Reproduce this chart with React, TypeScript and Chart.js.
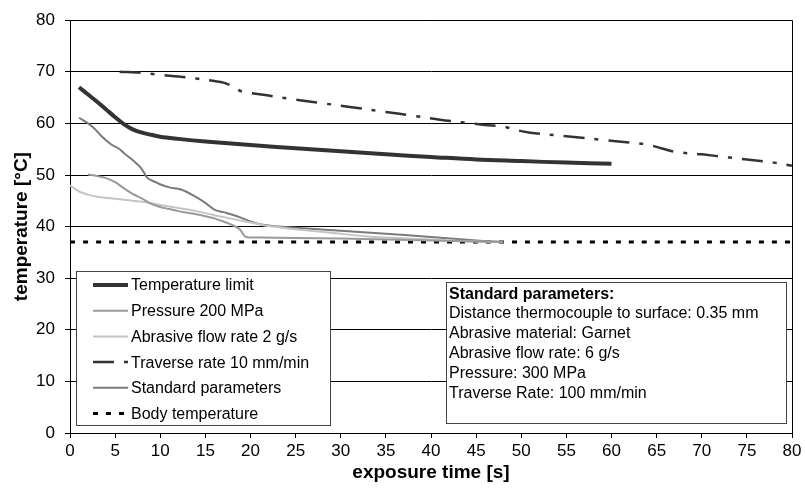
import React, { useEffect, useRef } from "react";
import { Chart, registerables } from "chart.js";

Chart.register(...registerables);

const FONT = "'Liberation Sans', Arial, sans-serif";

// Temperature limit
const limitX = [1, 2, 3, 4, 5, 6, 7, 8, 9, 10, 12, 15, 20, 25, 30, 35, 40, 45, 50, 55, 60];
const limitY = [67, 65.6, 64.2, 62.7, 61.2, 59.8, 58.8, 58.2, 57.8, 57.4, 57.0, 56.5, 55.8, 55.2, 54.6, 54.0, 53.5, 53.0, 52.7, 52.4, 52.2];

// Pressure 200 MPa
const pressureX = [2, 3, 4, 5, 6, 7, 8, 9, 10, 11, 12, 13, 14, 15, 16, 17, 18, 18.8, 19.2, 19.5, 21, 25, 30, 35, 40, 45, 48];
const pressureY = [50.1, 49.8, 49.4, 48.6, 47.4, 46.3, 45.4, 44.4, 43.8, 43.4, 43.0, 42.7, 42.4, 42.0, 41.6, 41.0, 40.3, 39.5, 38.5, 38.0, 37.9, 37.8, 37.7, 37.5, 37.3, 37.1, 37.0];

// Abrasive flow rate 2 g/s
const abrasiveX = [0, 1, 2, 3, 4, 6, 8, 10, 12, 14, 16, 18, 20, 22, 25, 30, 33, 35, 40, 45, 48];
const abrasiveY = [48, 46.8, 46.2, 45.8, 45.6, 45.2, 44.8, 44.2, 43.6, 43.0, 42.2, 41.5, 40.8, 40.1, 39.5, 38.6, 38.1, 37.9, 37.5, 37.1, 37.0];

// Traverse rate 10 mm/min
const traverseX = [5.5, 8, 10, 12, 14, 16, 17, 18, 19, 20, 22, 25, 28, 31, 35, 38, 41, 44, 46, 48, 49.5, 51, 55, 59, 62, 64, 65.5, 67, 70, 73, 76, 78, 80];
const traverseY = [70, 69.8, 69.4, 69.1, 68.7, 68.2, 67.9, 67.2, 66.2, 65.9, 65.4, 64.6, 63.9, 63.2, 62.2, 61.5, 60.7, 60.1, 59.7, 59.4, 58.7, 58.2, 57.5, 56.8, 56.3, 55.9, 55.2, 54.5, 54.0, 53.4, 52.8, 52.4, 51.8];

// Standard parameters
const standardX = [1, 2, 2.7, 3.5, 4.5, 5.5, 6, 7, 7.9, 8.6, 9.5, 10.1, 11, 12.3, 13.8, 15, 16, 17, 18, 19, 20, 21.2, 23, 25, 30, 35, 40, 45, 48];
const standardY = [61.1, 60, 59.0, 57.5, 56, 55, 54.2, 52.8, 51.3, 49.4, 48.6, 48.1, 47.6, 47.2, 45.9, 44.6, 43.3, 42.8, 42.3, 41.7, 41.0, 40.4, 40.0, 39.8, 39.2, 38.6, 38.0, 37.3, 37.0];

// Body temperature
const bodyX = [0, 80];
const bodyY = [37, 37];

const seriesLabels = [
  "Temperature limit",
  "Pressure 200 MPa",
  "Abrasive flow rate 2 g/s",
  "Traverse rate 10 mm/min",
  "Standard parameters",
  "Body temperature",
];

const infoTitle = "Standard parameters:";
const infoLines = [
  "Distance thermocouple to surface: 0.35 mm",
  "Abrasive material: Garnet",
  "Abrasive flow rate: 6 g/s",
  "Pressure: 300 MPa",
  "Traverse Rate: 100 mm/min",
];

const zip = (xs: number[], ys: number[]) => xs.map((x, i) => ({ x, y: ys[i] }));

const boxesPlugin = {
  id: "boxes",
  afterDatasetsDraw(chart: any) {
    const ctx: CanvasRenderingContext2D = chart.ctx;
    const ca = chart.chartArea;
    ctx.save();
    // plot frame (top + right edges)
    ctx.strokeStyle = "#000";
    ctx.lineWidth = 1;
    ctx.beginPath();
    ctx.moveTo(ca.left, Math.round(ca.top) + 0.5);
    ctx.lineTo(Math.round(ca.right) + 0.5, Math.round(ca.top) + 0.5);
    ctx.lineTo(Math.round(ca.right) + 0.5, ca.bottom);
    ctx.stroke();

    // legend box
    const lx = ca.left + 6.5, ly = 271.5, lw = 254, lh = 154;
    ctx.fillStyle = "#fff";
    ctx.fillRect(lx, ly, lw, lh);
    ctx.strokeStyle = "#444";
    ctx.strokeRect(lx, ly, lw, lh);
    ctx.font = `16px ${FONT}`;
    ctx.textBaseline = "middle";
    ctx.textAlign = "left";
    chart.data.datasets.forEach((ds: any, i: number) => {
      const y = 285 + i * 25.7;
      ctx.save();
      ctx.strokeStyle = ds.borderColor;
      ctx.lineWidth = ds.borderWidth;
      ctx.setLineDash(ds.borderDash || []);
      ctx.beginPath();
      ctx.moveTo(93, y);
      ctx.lineTo(128, y);
      ctx.stroke();
      ctx.restore();
      ctx.fillStyle = "#000";
      ctx.fillText(ds.label, 131, y + 1);
    });

    // info box
    const bx = 446.5, by = 282.5, bw = 340, bh = 141;
    ctx.fillStyle = "#fff";
    ctx.fillRect(bx, by, bw, bh);
    ctx.strokeStyle = "#444";
    ctx.strokeRect(bx, by, bw, bh);
    ctx.fillStyle = "#000";
    ctx.font = `bold 16px ${FONT}`;
    ctx.fillText(infoTitle, 449, 295);
    ctx.font = `16px ${FONT}`;
    infoLines.forEach((t, i) => ctx.fillText(t, 449, 314 + i * 20));
    ctx.restore();
  },
};

export default function App() {
  const ref = useRef<HTMLCanvasElement>(null);
  useEffect(() => {
    const colors = ["#333333", "#9a9a9a", "#c4c4c4", "#333333", "#7a7a7a", "#000000"];
    const widths = [4, 2, 2, 2.5, 2, 3];
    const dashes: number[][] = [[], [], [], [21, 10, 4, 10], [], [5, 8]];
    const data = [
      zip(limitX, limitY),
      zip(pressureX, pressureY),
      zip(abrasiveX, abrasiveY),
      zip(traverseX, traverseY),
      zip(standardX, standardY),
      zip(bodyX, bodyY),
    ];
    const chart = new Chart(ref.current!, {
      type: "line",
      data: {
        datasets: data.map((d, i) => ({
          label: seriesLabels[i],
          data: d,
          borderColor: colors[i],
          backgroundColor: colors[i],
          borderWidth: widths[i],
          borderDash: dashes[i],
          pointRadius: 0,
          tension: 0.35,
          fill: false,
          borderCapStyle: "butt",
        })),
      },
      options: {
        responsive: false,
        animation: false,
        events: [],
        layout: { padding: { left: 0, top: 16, right: 13, bottom: 0 } },
        plugins: { legend: { display: false }, tooltip: { enabled: false } },
        scales: {
          x: {
            type: "linear",
            min: 0,
            max: 80,
            ticks: { stepSize: 5, color: "#000", font: { family: FONT, size: 17 }, padding: 3, maxRotation: 0 },
            grid: { drawOnChartArea: false, drawTicks: true, tickLength: 5, color: "#000" },
            border: { display: true, color: "#000" },
            title: {
              display: true,
              text: "exposure time [s]",
              color: "#000",
              font: { family: FONT, size: 19, weight: "bold" },
              padding: { top: 0, bottom: 17 },
            },
            afterFit: (s: any) => { s.height = 68; },
          },
          y: {
            min: 0,
            max: 80,
            ticks: { stepSize: 10, color: "#000", font: { family: FONT, size: 17 }, padding: 10 },
            grid: { color: "#000", drawTicks: true, tickLength: 5, tickColor: "#000" },
            border: { display: true, color: "#000" },
            title: {
              display: true,
              text: "temperature [°C]",
              color: "#000",
              font: { family: FONT, size: 19, weight: "bold" },
              padding: { top: 10, bottom: 0 },
            },
            afterFit: (s: any) => { s.width = 70; },
          },
        },
      } as any,
      plugins: [boxesPlugin],
    });
    return () => chart.destroy();
  }, []);
  return (
    <div style={{ position: "fixed", left: 0, top: 0, width: 805, height: 501, background: "#fff" }}>
      <canvas ref={ref} width={805} height={501} style={{ display: "block", width: 805, height: 501 }} />
    </div>
  );
}
